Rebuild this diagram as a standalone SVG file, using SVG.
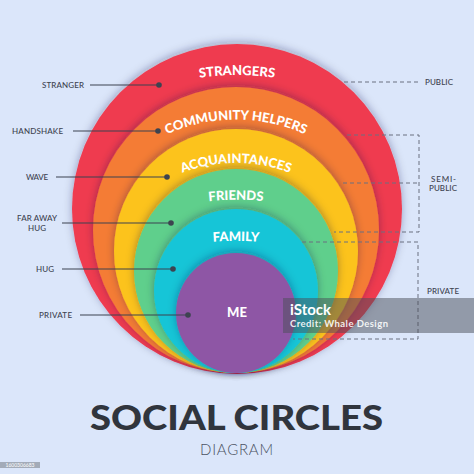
<svg xmlns="http://www.w3.org/2000/svg" width="474" height="474" viewBox="0 0 474 474">
<defs>
<filter id="sh" x="-20%" y="-20%" width="140%" height="140%">
<feDropShadow dx="0" dy="-2" stdDeviation="4" flood-color="#1c2444" flood-opacity="0.32"/>
</filter>
<path id="p-str" d="M 137 95 A 260 260 0 0 1 337 95"/>
<path id="p-com" d="M 126 160 A 170 170 0 0 1 346 160"/>
<path id="p-acq" d="M 146 193 A 150 150 0 0 1 326 193"/>
<path id="p-fri" d="M 176 207 A 250 250 0 0 1 296 207"/>
<path id="p-fam" d="M 176 247 A 300 300 0 0 1 296 247"/>
</defs>
<style>
.ring{filter:url(#sh);}
.lbl{font-family:Lato,"Liberation Sans",sans-serif;font-weight:900;font-size:13px;fill:#ffffff;text-anchor:middle;}
.side{font-family:Lato,"Liberation Sans",sans-serif;font-weight:500;font-size:8px;fill:#3d4350;}
.lead{stroke:#3d4350;stroke-width:1.2;fill:none;}
.dot{fill:#3d4350;}
.dash{stroke:#6a7080;stroke-width:1;stroke-dasharray:4 3;fill:none;}
</style>
<rect width="474" height="474" fill="#dbe6fa"/>

<g id="node-strangers">
<circle class="ring" cx="237" cy="209" r="165" fill="#ef3a50"/>
<text class="lbl"><textPath href="#p-str" startOffset="50%">STRANGERS</textPath></text>
</g>
<g id="node-community-helpers">
<circle class="ring" cx="236" cy="230" r="143" fill="#f47b36"/>
<text class="lbl"><textPath href="#p-com" startOffset="50%">COMMUNITY HELPERS</textPath></text>
</g>
<g id="node-acquaintances">
<circle class="ring" cx="236" cy="251" r="122" fill="#fcc31c"/>
<text class="lbl"><textPath href="#p-acq" startOffset="50%">ACQUAINTANCES</textPath></text>
</g>
<g id="node-friends">
<circle class="ring" cx="236" cy="271" r="102" fill="#5ecf8c"/>
<text class="lbl"><textPath href="#p-fri" startOffset="50%">FRIENDS</textPath></text>
</g>
<g id="node-family">
<circle class="ring" cx="236" cy="291" r="82" fill="#14c5d7"/>
<text class="lbl"><textPath href="#p-fam" startOffset="50%">FAMILY</textPath></text>
</g>
<g id="node-me">
<circle class="ring" cx="236" cy="313" r="60" fill="#8e57a5"/>
<text class="lbl" x="237" y="317">ME</text>
</g>

<g id="connectors">
<line class="lead" x1="90" y1="85" x2="159" y2="85"/><circle class="dot" cx="159" cy="85" r="2.8"/>
<line class="lead" x1="73" y1="131" x2="158" y2="131"/><circle class="dot" cx="158" cy="131" r="2.8"/>
<line class="lead" x1="56" y1="177" x2="167" y2="177"/><circle class="dot" cx="167" cy="177" r="2.8"/>
<line class="lead" x1="62" y1="223" x2="171" y2="223"/><circle class="dot" cx="171" cy="223" r="2.8"/>
<line class="lead" x1="62" y1="269" x2="173" y2="269"/><circle class="dot" cx="173" cy="269" r="2.8"/>
<line class="lead" x1="80" y1="315" x2="188" y2="315"/><circle class="dot" cx="188" cy="315" r="2.8"/>
<path class="dash" d="M 344 82 H 419"/>
<path class="dash" d="M 347 135 H 419 V 232 H 334 M 343 183 H 419"/>
<path class="dash" d="M 302 242 H 418 V 339 H 293"/>
</g>

<g id="labels-left">
<text class="side" x="42" y="88" textLength="42">STRANGER</text>
<text class="side" x="12" y="134" textLength="51">HANDSHAKE</text>
<text class="side" x="26" y="180" textLength="22">WAVE</text>
<text class="side" x="17" y="221" textLength="40">FAR AWAY</text>
<text class="side" x="28" y="231" textLength="18">HUG</text>
<text class="side" x="36" y="272" textLength="18">HUG</text>
<text class="side" x="39" y="318" textLength="33">PRIVATE</text>
</g>
<g id="labels-right">
<text class="side" x="425" y="85" textLength="28">PUBLIC</text>
<text class="side" x="431" y="182" textLength="25">SEMI-</text>
<text class="side" x="429" y="191" textLength="28">PUBLIC</text>
<text class="side" x="427" y="294" textLength="32">PRIVATE</text>
</g>

<g id="title">
<text x="236.5" y="430" text-anchor="middle" font-family="Lato,'Liberation Sans',sans-serif" font-weight="900" font-size="35" fill="#30353d" textLength="293" lengthAdjust="spacingAndGlyphs">SOCIAL CIRCLES</text>
<text x="236.5" y="455" text-anchor="middle" font-family="Lato,'Liberation Sans',sans-serif" font-weight="300" font-size="15" fill="#4a5262" textLength="73">DIAGRAM</text>
</g>

<g id="watermark">
<rect x="283" y="298" width="191" height="35" fill="#4a4e58" fill-opacity="0.5"/>
<text x="290" y="315" font-family="Lato,'Liberation Sans',sans-serif" font-weight="700" font-size="15" fill="#ffffff">iStock</text>
<text x="290" y="327" font-family="Lato,'Liberation Sans',sans-serif" font-weight="700" font-size="9.5" fill="#ffffff" fill-opacity="0.9" textLength="98">Credit: Whale Design</text>
<rect x="0" y="462" width="40" height="6" fill="#a3abb8"/>
<text x="20" y="466.8" text-anchor="middle" font-family="Lato,'Liberation Sans',sans-serif" font-size="5" fill="#ffffff">1600306683</text>
</g>
</svg>
